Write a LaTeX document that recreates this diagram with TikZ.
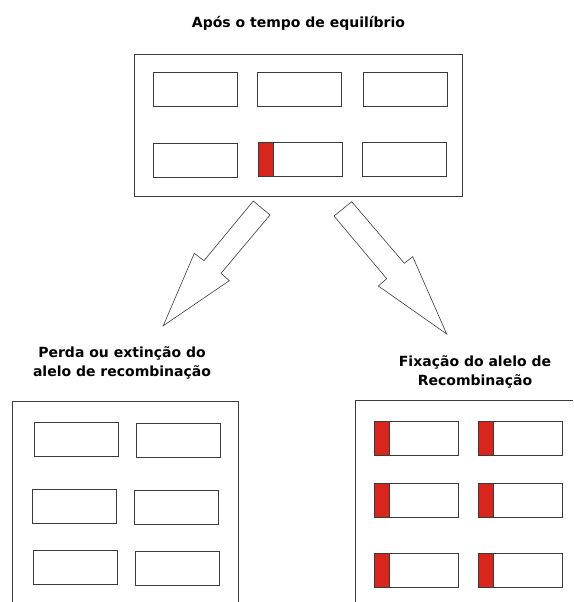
\documentclass[tikz,border=0pt]{standalone}
\usepackage{fontspec}
\setmainfont{DejaVu Sans}
\definecolor{allelered}{HTML}{D9261C}
\definecolor{linegray}{HTML}{3A3A3A}

\begin{document}
\begin{tikzpicture}[x=1pt, y=-1pt,
    gene/.style={draw=linegray, line width=0.8pt, minimum width=84pt, minimum height=34pt, inner sep=0pt},
    recgene/.style={gene, path picture={\filldraw[fill=allelered, draw=linegray, line width=0.8pt]
        (path picture bounding box.north west) rectangle ([xshift=15pt]path picture bounding box.south west);}},
    heading/.style={font=\fontsize{14}{19.7}\selectfont\bfseries, align=center, text=black},
    blockarrow/.style={draw=linegray, line width=0.6pt, line join=miter}]
    \useasboundingbox (0,0) rectangle (573,602);

    % population before
    \node[heading] (title) at (298.5,23) {Após o tempo de equilíbrio};
    \draw[linegray, line width=0.9pt] (134,54) rectangle (462,196.5);
    \node[gene] (t1) at (195,89) {};
    \node[gene] (t2) at (299,89.5) {};
    \node[gene] (t3) at (405,89) {};
    \node[gene] (t4) at (195,160) {};
    \node[recgene] (t5) at (300,159.5) {};
    \node[gene] (t6) at (404,159.5) {};

    \draw[blockarrow] (253.3,201) -- (204,260.7) -- (194.3,253.3) -- (163.3,325.7)
      -- (229.3,280.7) -- (221,273.3) -- (270,215) -- cycle;
    \draw[blockarrow] (351.7,201.7) -- (404.3,263.3) -- (412.7,256.7) -- (446.7,334)
      -- (378.3,286) -- (386.7,278.7) -- (334,216) -- cycle;

    % loss
    \node[heading] (loss) at (122,363) {Perda ou extinção do\\alelo de recombinação};
    \draw[linegray, line width=0.9pt] (12.8,602) -- (12.8,401) -- (238.7,401) -- (238.7,602);
    \node[gene] (l1) at (76,439.5) {};
    \node[gene] (l2) at (178,440.5) {};
    \node[gene] (l3) at (74.5,506.5) {};
    \node[gene] (l4) at (176,507.5) {};
    \node[gene] (l5) at (75.5,567.5) {};
    \node[gene] (l6) at (177.5,568.5) {};

    % fixation
    \node[heading] (fix) at (475,372) {Fixação do alelo de\\Recombinação};
    \draw[linegray, line width=0.9pt] (355.3,602) -- (355.3,400) -- (573,400);
    \node[recgene] (f1) at (416,438.8) {};
    \node[recgene] (f2) at (520,438.2) {};
    \node[recgene] (f3) at (416,500.3) {};
    \node[recgene] (f4) at (520,500) {};
    \node[recgene] (f5) at (416,570.8) {};
    \node[recgene] (f6) at (520.8,570.3) {};
\end{tikzpicture}
\end{document}
